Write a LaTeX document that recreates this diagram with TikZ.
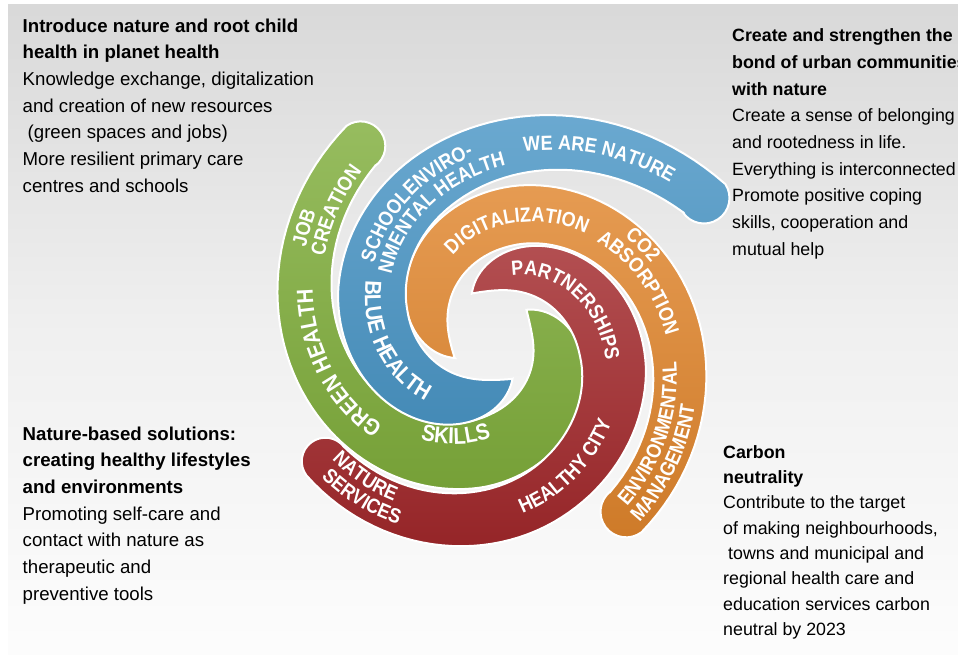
\documentclass[tikz,border=0pt]{standalone}
\usepackage{fontspec}
\setmainfont{Liberation Sans}
\newfontfamily\labelfamily[FakeStretch=0.88]{Liberation Sans}
\usetikzlibrary{decorations.text}

\definecolor{armgreen}{HTML}{80AE3C}
\definecolor{armblue}{HTML}{4A96C6}
\definecolor{armorange}{HTML}{E0852C}
\definecolor{armred}{HTML}{A2282B}

\def\bodyfont{\fontsize{18.65pt}{26.67pt}\selectfont}
\def\sidefont{\fontsize{17.8pt}{26.67pt}\selectfont}
\def\carbonfont{\fontsize{17.8pt}{25.3pt}\selectfont}
\def\armfont{\labelfamily\bfseries\fontsize{20.5pt}{21pt}\selectfont}
\def\bigarmfont{\labelfamily\bfseries\fontsize{23pt}{24pt}\selectfont}

\def\spiralarm#1#2#3#4#5#6{\path[arm=#1]
  plot[domain=#3:#4, samples=100] ({#2-\x}:{spr(\x,#5)+bandw(\x-(#3),#6)/2})
  arc[start angle={#2-(#4)}, delta angle=-180, radius={bandw(#4-(#3),#6)/2}]
  -- plot[domain=#4:#3, samples=100] ({#2-\x}:{spr(\x,#5)-bandw(\x-(#3),#6)/2}) -- cycle;}

\def\armtext#1#2#3#4#5#6{\path[decorate, decoration={text along path,
  text align=#5, text color=white, text={#6}}]
  plot[domain=#3, samples=60] ({#1-\x}:{spr(\x,#2)+#4});}

\begin{document}
\begin{tikzpicture}[x=1pt, y=1pt,
  declare function={spr(\x,\f)=60+0.522*\x+0.000864*\x*\x+\f*max(0,(\x-160)/75)^2;
                    bandw(\x,\a)=(\x<130)?\a*(\x/130)*exp(1-\x/130):\a-(\a>65?0.16:0.08)*(\x-130);},
  arm/.style={draw=white, line width=2pt, top color=#1!82!white, bottom color=#1!92!black},
  block/.style={anchor=north west, inner sep=0pt, align=left}]

\useasboundingbox (0,0) rectangle (958,655);
\fill[white] (0,0) rectangle (958,655);
\shade[top color=black!15, bottom color=black!1, middle color=black!6] (8,0) rectangle (958,650);

\node[block, font=\bodyfont] (1) at (22.5,636.7) {\textbf{Introduce nature and root child}\\
  \textbf{health in planet health}\\Knowledge exchange, digitalization\\
  and creation of new resources\\\hspace*{5pt}(green spaces and jobs)\\
  More resilient primary care\\centres and schools};
\node[block, font=\sidefont] (2) at (732,626.3) {\textbf{Create and strengthen the}\\
  \textbf{bond of urban communities}\\\textbf{with nature}\\
  Create a sense of belonging\\and rootedness in life.\\Everything is interconnected\\
  Promote positive coping\\skills, cooperation and\\mutual help};
\node[block, font=\bodyfont] (3) at (22.5,228.6) {\textbf{Nature-based solutions:}\\
  \textbf{creating healthy lifestyles}\\\textbf{and environments}\\
  Promoting self-care and\\contact with nature as\\therapeutic and\\preventive tools};
\node[block, font=\carbonfont] (4) at (723,209.7) {\textbf{Carbon}\\\textbf{neutrality}\\
  Contribute to the target\\of making neighbourhoods,\\\hspace*{5pt}towns and municipal and\\
  regional health care and\\education services carbon\\neutral by 2023};

\begin{scope}[shift={(493,320)}]
\spiralarm{armgreen}{0}{-37}{235}{0}{72}
\spiralarm{armred}{90}{-27}{233}{-20}{68}
\spiralarm{armorange}{180}{-31}{233}{-8}{62}
\spiralarm{armblue}{270}{-24}{237}{18}{72}

\armtext{270}{18}{147:257}{-7.3}{center}{|\armfont|WE ARE NATURE}
\armtext{270}{18}{121:241}{2.9}{left}{|\armfont|SCHOOLENVIRO-}
\armtext{270}{18}{121:241}{-17.6}{left}{|\armfont|NMENTAL HEALTH}
\armtext{270}{18}{133:13}{8.2}{center}{|\bigarmfont|BLUE HEALTH}
\armtext{180}{-8}{31:151}{-7.3}{center}{|\armfont|DIGITALIZATION}
\armtext{180}{-8}{94:194}{11.5}{center}{|\armfont|CO2}
\armtext{180}{-8}{98:208}{-9}{center}{|\armfont|ABSORPTION}
\armtext{180}{-8}{232:112}{-2.9}{left}{|\armfont|ENVIRONMENTAL}
\armtext{180}{-8}{232:112}{17.6}{left}{|\armfont|MANAGEMENT}
\armtext{90}{-20}{0:112}{-7.3}{center}{|\armfont|PARTNERSHIPS}
\armtext{90}{-20}{198:88}{7.3}{center}{|\armfont|HEALTHY CITY}
\armtext{90}{-20}{269:169}{-5.9}{center}{|\armfont|NATURE}
\armtext{90}{-20}{266:166}{14.6}{center}{|\armfont|SERVICES}
\armtext{0}{0}{155:45}{-11.8}{center}{|\bigarmfont|SKILLS}
\armtext{0}{0}{107:217}{-8.2}{center}{|\bigarmfont|GREEN HEALTH}
\armtext{0}{0}{205:305}{2.9}{left}{|\armfont|JOB}
\armtext{0}{0}{205:305}{-17.6}{left}{|\armfont|CREATION}
\end{scope}
\end{tikzpicture}
\end{document}
